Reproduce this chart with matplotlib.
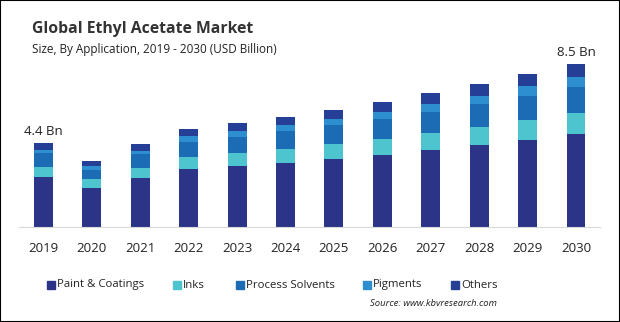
import numpy as np
import matplotlib.pyplot as plt
from matplotlib.patches import Rectangle

plt.rcParams['font.family'] = ['Open Sans', 'DejaVu Sans']

years = ['2019', '2020', '2021', '2022', '2023', '2024', '2025', '2026', '2027', '2028', '2029', '2030']
paint = [2.63, 2.05, 2.56, 3.03, 3.18, 3.34, 3.55, 3.76, 4.02, 4.28, 4.54, 4.85]
inks = [0.52, 0.44, 0.52, 0.63, 0.68, 0.73, 0.78, 0.83, 0.89, 0.94, 1.04, 1.11]
process = [0.70, 0.49, 0.71, 0.78, 0.83, 0.94, 0.99, 1.04, 1.10, 1.20, 1.25, 1.35]
pigments = [0.17, 0.22, 0.19, 0.31, 0.33, 0.31, 0.31, 0.37, 0.42, 0.42, 0.52, 0.52]
others = [0.38, 0.24, 0.37, 0.37, 0.40, 0.43, 0.47, 0.52, 0.57, 0.63, 0.63, 0.66]
series = ['Paint & Coatings', 'Inks', 'Process Solvents', 'Pigments', 'Others']
colors = ['#2B3486', '#4DC4CE', '#1B6BB5', '#2E8FD0', '#243F95']
labels = {0: '4.4 Bn', 11: '8.5 Bn'}

fig = plt.figure(figsize=(6.2, 3.22), dpi=100)
ax = fig.add_axes([0.031, 0.295, 0.937, 0.596])

x = np.arange(len(years))
bottom = np.zeros(len(years))
for name, vals, c in zip(series, [paint, inks, process, pigments, others], colors):
    ax.bar(x, vals, width=0.39, bottom=bottom, color=c, label=name)
    bottom += np.array(vals)

for i, txt in labels.items():
    ax.text(x[i], bottom[i] + 0.25, txt, ha='center', va='bottom', fontsize=9.5, color='#222222')

ax.set_xlim(-0.5, 11.5)
ax.set_ylim(0, 10)
ax.set_xticks(x)
ax.set_xticklabels(years, fontsize=9.5, color='#222222')
ax.tick_params(axis='x', length=0, pad=11)
ax.set_yticks([])
for s in ['top', 'right', 'left']:
    ax.spines[s].set_visible(False)
ax.spines['bottom'].set_color('#d9d9d9')

fig.text(0.052, 1 - 33 / 322, 'Global Ethyl Acetate Market', fontsize=11.3, fontweight='bold', color='#333333')
fig.text(0.052, 1 - 53 / 322, 'Size, By Application, 2019 - 2030 (USD Billion)', fontsize=8.5, color='#222222')

leg_x = [47, 173, 236, 363, 451]
for lx, name, c in zip(leg_x, series, colors):
    fig.patches.append(Rectangle((lx / 620, 1 - 289 / 322), 8 / 620, 8 / 322,
                                 transform=fig.transFigure, color=c))
    fig.text((lx + 10) / 620, 1 - 285 / 322, name, fontsize=8.2, va='center', color='#222222')

fig.text(497 / 620, 1 - 303 / 322, 'Source: www.kbvresearch.com', fontsize=6.8, style='italic',
         ha='right', va='center', color='#222222')

fig.patches.append(Rectangle((0, 0), 1, 1, transform=fig.transFigure, fill=False,
                             edgecolor='black', linewidth=1.5))

fig.savefig('out.png', dpi=100)
